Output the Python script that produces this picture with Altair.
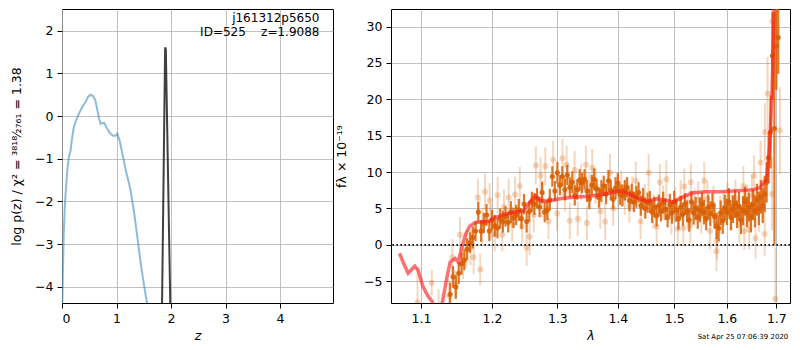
import altair as alt
import pandas as pd

# ---------------- data: left panel (log p(z)) ----------------
pz_z = [0.0, 0.006, 0.031, 0.055, 0.098, 0.128, 0.159, 0.171, 0.214, 0.251, 0.300,
        0.373, 0.434, 0.477, 0.520, 0.569, 0.612, 0.642, 0.679, 0.709, 0.746, 0.777,
        0.826, 0.875, 0.936, 0.985, 1.015, 1.058, 1.119, 1.180, 1.254, 1.321, 1.376,
        1.437, 1.498, 1.560, 1.600]
pz_logp = [-4.9, -4.38, -2.77, -2.02, -1.26, -0.95, -0.80, -0.65, -0.27, -0.12, 0.03,
           0.22, 0.33, 0.45, 0.50, 0.47, 0.37, 0.18, -0.05, -0.18, -0.16, -0.16,
           -0.29, -0.39, -0.46, -0.46, -0.41, -0.58, -0.95, -1.33, -1.71, -2.24, -2.77,
           -3.38, -3.91, -4.38, -4.70]
peak_z = [1.830, 1.892, 1.905, 1.995]
peak_logp = [-5.0, 1.61, 1.56, -5.0]

z_ticks = [0, 1, 2, 3, 4]
logp_ticks = [-4, -3, -2, -1, 0, 1, 2]
label_lines = ["j161312p5650", "ID=525\u00a0\u00a0\u00a0\u00a0z=1.9088"]

# ---------------- data: right panel (spectrum) ----------------
model_lam = [1.0714, 1.0770, 1.0828, 1.0917, 1.0960, 1.1025, 1.1091, 1.1150, 1.1220, 1.1290,
             1.1356, 1.1400, 1.1469, 1.1512, 1.1564, 1.1617, 1.1675, 1.1742, 1.1877, 1.1946,
             1.2037, 1.2199, 1.2388, 1.2470, 1.2546, 1.2650, 1.2727, 1.2856, 1.3039, 1.3251,
             1.3521, 1.3794, 1.4046, 1.4189, 1.4333, 1.4509, 1.4688, 1.4861, 1.4989, 1.5155,
             1.5334, 1.5576, 1.5886, 1.6202, 1.6527, 1.6660, 1.6798, 1.6864, 1.6913, 1.6954,
             1.7000]
model_flux = [-1.16, -2.60, -3.90, -2.94, -3.47, -5.70, -7.00, -7.80, -9.20, -8.00,
              -4.40, -2.36, -1.90, -2.36, -0.36, 1.43, 2.54, 2.98, 3.20, 3.20,
              3.74, 4.20, 4.55, 4.63, 5.65, 6.77, 6.10, 6.00, 6.32, 6.55,
              6.68, 6.99, 7.43, 6.99, 6.42, 5.98, 6.32, 6.10, 5.87, 6.55,
              7.12, 7.30, 7.30, 7.43, 7.56, 7.87, 9.00, 13.90, 21.50, 32.60,
              42.00]

dark_lam = [1.140, 1.144, 1.148, 1.152, 1.156, 1.160, 1.164, 1.168, 1.172, 1.176,
            1.180, 1.184, 1.188, 1.192, 1.196, 1.200, 1.204, 1.208, 1.212, 1.216,
            1.220, 1.224, 1.228, 1.232, 1.236, 1.240, 1.244, 1.248, 1.252, 1.256,
            1.260, 1.264, 1.268, 1.272, 1.276, 1.280, 1.284, 1.288, 1.292, 1.296,
            1.300, 1.304, 1.308, 1.312, 1.316, 1.320, 1.324, 1.328, 1.332, 1.336,
            1.340, 1.344, 1.348, 1.352, 1.356, 1.360, 1.364, 1.368, 1.372, 1.376,
            1.380, 1.384, 1.388, 1.392, 1.396, 1.400, 1.404, 1.408, 1.412, 1.416,
            1.420, 1.424, 1.428, 1.432, 1.436, 1.440, 1.444, 1.448, 1.452, 1.456,
            1.460, 1.464, 1.468, 1.472, 1.476, 1.480, 1.484, 1.488, 1.492, 1.496,
            1.500, 1.504, 1.508, 1.512, 1.516, 1.520, 1.524, 1.528, 1.532, 1.536,
            1.540, 1.544, 1.548, 1.552, 1.556, 1.560, 1.564, 1.568, 1.572, 1.576,
            1.580, 1.584, 1.588, 1.592, 1.596, 1.600, 1.604, 1.608, 1.612, 1.616,
            1.620, 1.624, 1.628, 1.632, 1.636, 1.640, 1.644, 1.648, 1.652, 1.656,
            1.660, 1.664, 1.668, 1.672, 1.676, 1.680, 1.684, 1.688, 1.692, 1.696,
            1.700, 1.704]
dark_flux = [-6.8, -4.4, -5.8, -3.9, -2.6, -2.1, -0.6, 0.3, 1.0, 1.9,
             4.5, 1.9, 3.0, 4.1, 1.9, 3.4, 2.6, 2.3, 3.6, 3.2,
             3.9, 3.1, 4.5, 3.7, 4.1, 4.8, 3.6, 5.6, 3.2, 4.6,
             5.9, 5.6, 6.4, 5.2, 7.2, 4.5, 4.8, 6.2, 9.4, 7.4,
             9.9, 8.2, 9.4, 7.6, 9.6, 7.9, 8.6, 6.8, 7.6, 8.9,
             8.5, 9.0, 7.4, 6.3, 8.2, 9.0, 7.7, 6.5, 7.4, 8.1,
             7.0, 8.8, 7.5, 6.3, 7.8, 8.5, 6.9, 6.8, 7.5, 7.9,
             6.1, 7.0, 5.9, 6.6, 7.2, 5.4, 6.3, 5.0, 5.8, 5.9,
             4.5, 5.2, 4.0, 5.4, 4.6, 5.8, 4.9, 3.8, 5.5, 4.4,
             5.9, 4.8, 3.6, 5.2, 4.2, 5.6, 4.6, 3.4, 5.9, 4.4,
             5.0, 3.8, 4.8, 5.6, 4.5, 3.6, 5.2, 4.3, 5.5, 3.9,
             2.6, 2.3, 4.4, 3.3, 5.1, 4.5, 5.9, 3.8, 4.9, 5.6,
             4.2, 5.3, 3.4, 4.7, 6.0, 4.5, 5.2, 3.8, 5.5, 4.6,
             6.2, 5.0, 6.6, 5.4, 7.0, 8.6, 12.0, 15.5, 26.0, 16.0,
             27.3, 28.5]
dark_err = [1.6, 1.5, 1.6, 1.5, 1.5, 1.4, 1.5, 1.4, 1.5, 1.4,
            1.4, 1.5, 1.4, 1.5, 1.4, 1.4, 1.5, 1.4, 1.4, 1.5,
            1.4, 1.4, 1.5, 1.4, 1.4, 1.5, 1.4, 1.4, 1.5, 1.4,
            1.4, 1.5, 1.4, 1.4, 1.5, 1.4, 1.4, 1.5, 1.4, 1.4,
            1.5, 1.4, 1.4, 1.5, 1.4, 1.4, 1.5, 1.4, 1.4, 1.5,
            1.4, 1.4, 1.5, 1.4, 1.4, 1.5, 1.4, 1.4, 1.5, 1.4,
            1.4, 1.5, 1.4, 1.4, 1.5, 1.4, 1.4, 1.5, 1.4, 1.4,
            1.5, 1.4, 1.4, 1.5, 1.4, 1.4, 1.5, 1.4, 1.4, 1.5,
            1.5, 1.4, 1.5, 1.5, 1.4, 1.5, 1.5, 1.4, 1.5, 1.5,
            1.5, 1.6, 1.5, 1.5, 1.6, 1.5, 1.5, 1.6, 1.5, 1.6,
            1.6, 1.6, 1.7, 1.6, 1.7, 1.6, 1.7, 1.7, 1.6, 1.7,
            1.8, 1.8, 1.7, 1.8, 1.8, 1.8, 1.9, 1.8, 1.9, 1.9,
            1.9, 2.0, 1.9, 2.0, 2.0, 2.1, 2.0, 2.1, 2.1, 2.2,
            2.2, 2.3, 2.3, 2.4, 2.5, 2.8, 3.5, 5.0, 6.0, 16.0,
            6.0, 5.0]

light_lam = [1.0953, 1.1146, 1.1240, 1.1385, 1.1431, 1.1470, 1.1538, 1.1580, 1.1630, 1.1688,
             1.1733, 1.1794, 1.1828, 1.1860, 1.1897, 1.1966, 1.1988, 1.2040, 1.2083, 1.2153,
             1.2177, 1.2248, 1.2300, 1.2343, 1.2415, 1.2450, 1.2520, 1.2565, 1.2630, 1.2662,
             1.2735, 1.2760, 1.2809, 1.2859, 1.2932, 1.2996, 1.3081, 1.3120, 1.3149, 1.3200,
             1.3278, 1.3329, 1.3383, 1.3462, 1.3480, 1.3520, 1.3567, 1.3621, 1.3702, 1.3784,
             1.3866, 1.3920, 1.4000, 1.4059, 1.4120, 1.4199, 1.4250, 1.4310, 1.4395, 1.4470,
             1.4538, 1.4624, 1.4681, 1.4739, 1.4800, 1.4857, 1.4950, 1.5020, 1.5067, 1.5120,
             1.5170, 1.5187, 1.5250, 1.5302, 1.5309, 1.5380, 1.5450, 1.5510, 1.5563, 1.5623,
             1.5673, 1.5740, 1.5796, 1.5808, 1.5870, 1.5934, 1.6010, 1.6091, 1.6170, 1.6250,
             1.6327, 1.6346, 1.6400, 1.6443, 1.6500, 1.6541, 1.6574, 1.6640, 1.6674, 1.6720,
             1.6760, 1.6763, 1.6818, 1.6910, 1.6913, 1.6978, 1.7074]
light_flux = [-7.9, -5.2, -8.6, -7.0, -1.7, -5.5, 1.4, -2.5, -0.5, -0.4,
              -1.7, 6.5, -3.4, 2.5, 7.3, 6.1, 3.2, 1.5, 6.8, 1.4,
              5.2, 6.5, 2.8, 6.9, 8.1, 2.5, -0.4, 1.1, 4.1, 10.9,
              9.5, 6.2, 10.8, 3.2, 11.7, 4.3, 11.9, 7.0, 11.0, 3.3,
              10.3, 3.6, 8.6, 11.0, 3.0, 7.5, 10.6, 8.1, 4.6, 3.2,
              9.9, 5.0, 7.2, 7.7, 6.5, 5.4, 7.0, 8.8, 3.2, 6.0,
              9.9, 4.6, 2.5, 8.6, 5.8, 9.0, 3.8, 5.5, 2.2, 6.4,
              2.3, 8.0, 4.5, 2.7, 8.6, 5.2, 6.2, 4.0, 8.8, 6.3,
              1.9, 5.5, -0.9, 0.6, 4.2, 5.0, 6.0, 4.6, 6.4, 2.8,
              8.1, 1.9, 5.6, 2.1, 6.8, 9.5, 0.9, 4.6, 11.3, 6.2,
              1.5, 15.5, 20.8, 7.0, 30.7, -7.4, 15.7]
light_err = [4.8, 1.8, 2.5, 2.2, 2.5, 2.0, 2.4, 2.2, 2.6, 2.4,
             2.3, 2.6, 2.2, 2.5, 2.5, 2.4, 2.5, 2.4, 2.5, 2.3,
             2.4, 2.5, 2.4, 2.5, 2.6, 2.3, 2.5, 2.5, 2.4, 2.6,
             2.5, 2.4, 2.6, 2.4, 2.6, 2.4, 2.7, 2.4, 2.6, 2.5,
             2.6, 2.4, 2.5, 2.6, 2.4, 2.4, 2.6, 2.5, 2.4, 2.5,
             2.6, 2.4, 2.4, 2.5, 2.4, 2.4, 2.4, 2.6, 2.4, 2.4,
             2.6, 2.4, 2.5, 2.5, 2.4, 2.6, 2.4, 2.4, 2.4, 2.5,
             2.5, 2.5, 2.5, 2.5, 2.6, 2.5, 2.5, 2.5, 2.6, 2.5,
             2.5, 2.6, 2.7, 2.6, 2.6, 2.5, 2.6, 2.6, 2.6, 2.6,
             2.7, 2.6, 2.7, 2.7, 2.8, 2.8, 2.8, 2.8, 3.0, 3.0,
             3.0, 4.0, 5.0, 5.0, 6.0, 7.0, 6.0]

lam_ticks = [1.1, 1.2, 1.3, 1.4, 1.5, 1.6, 1.7]
flux_ticks = [-5, 0, 5, 10, 15, 20, 25, 30]
timestamp = "Sat Apr 25 07:06:39 2020"

# ---------------- layout ----------------
W1, W2, H = 271, 399, 294
FONT = "DejaVu Sans"
ORANGE = "#d95f02"
FLUX_DOMAIN = [-8.0, 32.42]

df_pz = pd.DataFrame({"z": pz_z, "logp": pz_logp})
df_peak = pd.DataFrame({"z": peak_z, "logp": peak_logp})
df_one = pd.DataFrame({"k": [0]})

xz = alt.X("z:Q", scale=alt.Scale(domain=[0, 4.972], nice=False, zero=False),
           axis=alt.Axis(values=z_ticks, format="d", title="z", titleFontStyle="italic",
                         labelPadding=4, titlePadding=5))
yl = alt.Y("logp:Q", scale=alt.Scale(domain=[-4.38, 2.51], nice=False, zero=False),
           axis=alt.Axis(values=logp_ticks, format="d",
                         title="log p(z) / \u03c7\u00b2 = \u00b3\u2078\u00b9\u2078\u2044\u2082\u2087\u2086\u2081 = 1.38",
                         labelPadding=4, titlePadding=11))

blue = alt.Chart(df_pz).mark_line(color="#1f77b4", opacity=0.5, strokeWidth=2, clip=True).encode(x=xz, y=yl)
peak = alt.Chart(df_peak).mark_line(color="black", opacity=0.75, strokeWidth=2, clip=True).encode(x=xz, y=yl)
note = alt.Chart(df_one).mark_text(align="right", baseline="top", font=FONT, fontSize=12,
                                   lineHeight=14, color="black").encode(
    x=alt.value(W1 * 0.95), y=alt.value(4), text=alt.value(label_lines))

left = alt.layer(blue, peak, note).properties(width=W1, height=H)

# right panel
df_model = pd.DataFrame({"lam": model_lam, "flux": model_flux})
df_dark = pd.DataFrame({"lam": dark_lam, "flux": dark_flux, "err": dark_err})
df_light = pd.DataFrame({"lam": light_lam, "flux": light_flux, "err": light_err})
df_zero = pd.DataFrame({"flux": [0]})

xl = alt.X("lam:Q", scale=alt.Scale(type="log", domain=[1.0603, 1.7287], nice=False, zero=False),
           axis=alt.Axis(values=lam_ticks, format=".1f", title="\u03bb", titleFontStyle="italic",
                         labelPadding=4, titlePadding=5))
yf = alt.Y("flux:Q", scale=alt.Scale(domain=FLUX_DOMAIN, nice=False, zero=False),
           axis=alt.Axis(values=flux_ticks, format="d", title="f\u03bb \u00d7 10\u207b\u00b9\u2079",
                         labelPadding=4, titlePadding=15))

def errbars(df, width, opacity):
    return alt.Chart(df).transform_calculate(
        lo="datum.flux - datum.err", hi="datum.flux + datum.err"
    ).mark_rule(color=ORANGE, strokeWidth=width, opacity=opacity, clip=True).encode(
        x=xl, y=alt.Y("lo:Q", scale=alt.Scale(domain=FLUX_DOMAIN, nice=False, zero=False)), y2="hi:Q")

light_bars = errbars(df_light, 2.0, 0.25)
light_pts = alt.Chart(df_light).mark_circle(color=ORANGE, size=36, opacity=0.25, clip=True).encode(x=xl, y=yf)
dark_bars = errbars(df_dark, 2.2, 0.85)
dark_pts = alt.Chart(df_dark).mark_circle(color=ORANGE, size=26, opacity=0.9, clip=True).encode(x=xl, y=yf)
model = alt.Chart(df_model).mark_line(color="#ff1a1a", opacity=0.62, strokeWidth=3.5, clip=True).encode(x=xl, y=yf)
zero = alt.Chart(df_zero).mark_rule(color="#111111", strokeDash=[1.6, 2.4], strokeWidth=1.8).encode(y=yf)
stamp = alt.Chart(df_one).mark_text(align="center", baseline="middle", font=FONT, fontSize=7,
                                    color="black").encode(
    x=alt.value(352), y=alt.value(H + 34), text=alt.value(timestamp))

right = alt.layer(light_bars, light_pts, dark_bars, dark_pts, model, zero, stamp).properties(width=W2, height=H)

chart = alt.hconcat(left, right, spacing=1).properties(
    padding={"left": 2, "top": 0, "right": 0, "bottom": 0}
).configure_axis(
    labelFont=FONT, labelFontSize=12.5, titleFont=FONT, titleFontSize=12.5,
    titleFontWeight="normal", labelColor="black", titleColor="black",
    gridColor="#b0b0b0", gridWidth=0.8, tickColor="black", tickSize=5, tickWidth=1,
    domain=False
).configure_view(stroke="black", strokeWidth=1)

chart.save("out.html", embed_options={"renderer": "svg", "actions": False})
